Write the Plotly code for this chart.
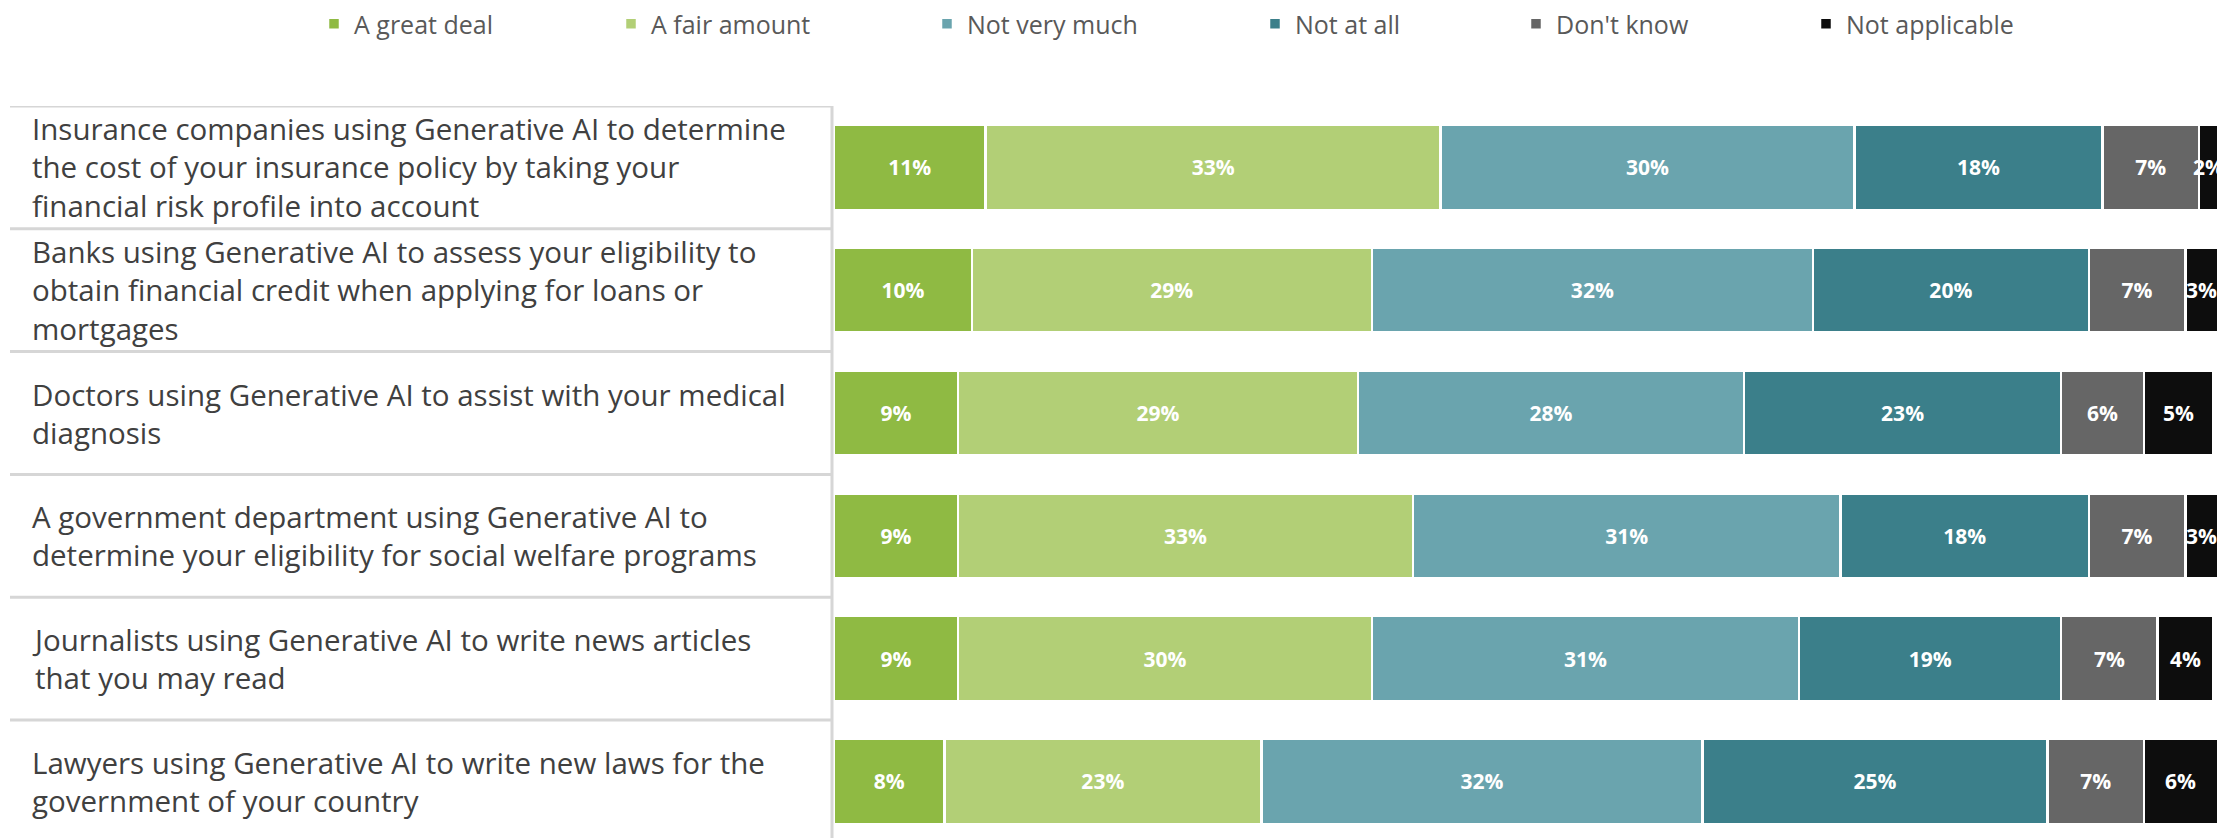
import plotly.graph_objects as go

# Survey statements (top to bottom) and response shares in percent
statements = [
    "Insurance companies using Generative AI to determine<br>the cost of your insurance policy by taking your<br>financial risk profile into account",
    "Banks using Generative AI to assess your eligibility to<br>obtain financial credit when applying for loans or<br>mortgages",
    "Doctors using Generative AI to assist with your medical<br>diagnosis",
    "A government department using Generative AI to<br>determine your eligibility for social welfare programs",
    "Journalists using Generative AI to write news articles<br>that you may read",
    "Lawyers using Generative AI to write new laws for the<br>government of your country",
]
row_keys = ["insurance", "banks", "doctors", "government", "journalists", "lawyers"]

responses = ["A great deal", "A fair amount", "Not very much", "Not at all", "Don't know", "Not applicable"]

a_great_deal = [11, 10, 9, 9, 9, 8]
a_fair_amount = [33, 29, 29, 33, 30, 23]
not_very_much = [30, 32, 28, 31, 31, 32]
not_at_all = [18, 20, 23, 18, 19, 25]
dont_know = [7, 7, 6, 7, 7, 7]
not_applicable = [2, 3, 5, 3, 4, 6]

series = [a_great_deal, a_fair_amount, not_very_much, not_at_all, dont_know, not_applicable]
colors = ["#8fba43", "#b2cf76", "#6aa4ae", "#3b7f8a", "#666666", "#0d0d0d"]

W, H = 2217, 838
TOP = 106
PITCH = 122.8
plot_h = H - TOP
y_bottom = -0.5 + plot_h / PITCH
X_MAX = 100.3

legend_names = ["legend", "legend2", "legend3", "legend4", "legend5", "legend6"]
legend_px = [314, 611, 927, 1255, 1516, 1806]

label_font = dict(family="Open Sans", size=21, color="white", weight="bold")

fig = go.Figure()
last = len(series) - 1
for k, (name, vals, col, lg) in enumerate(zip(responses, series, colors, legend_names)):
    fig.add_trace(go.Bar(
        name=name,
        y=row_keys,
        x=vals,
        orientation="h",
        marker=dict(color=col, line=dict(color="white", width=2.5)),
        text=[f"{v}%" for v in vals],
        textposition="none" if k == last else "inside",
        insidetextanchor="middle",
        textangle=0,
        constraintext="none",
        insidetextfont=label_font,
        width=0.69,
        legend=lg,
        hoverinfo="skip",
    ))

layout_legends = {}
for lg, px in zip(legend_names, legend_px):
    layout_legends[lg] = dict(
        orientation="h",
        x=px / W, xanchor="left",
        y=1 + (TOP - 24) / plot_h, yanchor="middle",
        bgcolor="rgba(0,0,0,0)",
        borderwidth=0,
        font=dict(family="Open Sans", size=25, color="#595959"),
        itemclick=False,
    )

annotations = []

# labels of the last segment, centred on the part of the bar inside the axis
for i, key in enumerate(row_keys):
    start = sum(s[i] for s in series[:last])
    end = start + not_applicable[i]
    mid = (start + min(end, X_MAX)) / 2
    annotations.append(dict(
        x=mid, xref="x", y=key, yref="y", xanchor="center", yanchor="middle",
        text=f"{not_applicable[i]}%", showarrow=False, font=label_font,
    ))

# statement labels in the table on the left
for key, text in zip(row_keys, statements):
    annotations.append(dict(
        x=30 / W, xref="paper", xanchor="left",
        y=key, yref="y", yanchor="middle",
        text=text, showarrow=False, align="left",
        font=dict(family="Open Sans", size=29.5, color="#404040"),
    ))

# table rules: top border, row separators and right border
shapes = []
line_style = dict(color="#d6d6d6", width=3)
x_left, x_right = 10 / W, 832 / W
shapes.append(dict(type="line", xref="paper", yref="y", x0=x_left, x1=x_right,
                   y0=-0.5, y1=-0.5, line=line_style))
for i in range(len(row_keys) - 1):
    shapes.append(dict(type="line", xref="paper", yref="y", x0=x_left, x1=x_right,
                       y0=i + 0.5, y1=i + 0.5, line=line_style))
shapes.append(dict(type="line", xref="paper", yref="y", x0=x_right, x1=x_right,
                   y0=-0.5, y1=y_bottom, line=line_style))

fig.update_layout(
    width=W, height=H,
    margin=dict(l=0, r=0, t=TOP, b=0, pad=0),
    barmode="stack",
    plot_bgcolor="white",
    paper_bgcolor="white",
    showlegend=True,
    annotations=annotations,
    shapes=shapes,
    xaxis=dict(domain=[834 / W, 1], range=[0, X_MAX], visible=False, fixedrange=True),
    yaxis=dict(categoryorder="array", categoryarray=row_keys, range=[y_bottom, -0.5],
               visible=False, fixedrange=True),
    **layout_legends,
)

fig.write_html("out.html", config={"displayModeBar": False})
